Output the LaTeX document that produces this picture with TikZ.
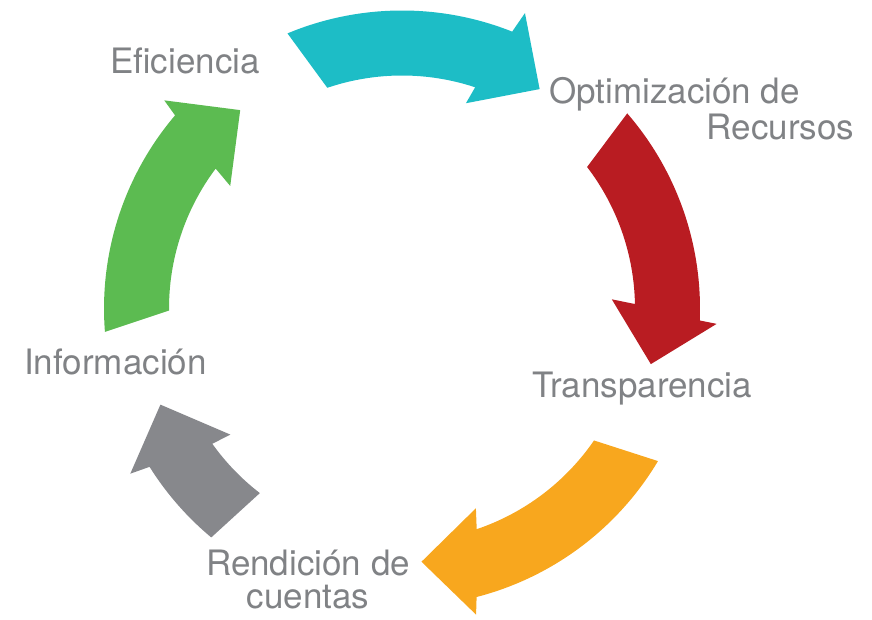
\documentclass[tikz,border=0pt]{standalone}
\usepackage{fontspec}
\setmainfont{TeX Gyre Heros}
\definecolor{cteal}{RGB}{29,189,198}
\definecolor{cred}{RGB}{185,28,34}
\definecolor{corange}{RGB}{248,167,30}
\definecolor{cgrayarrow}{RGB}{135,136,140}
\definecolor{cgreen}{RGB}{92,187,81}
\definecolor{ctext}{RGB}{128,130,133}
\begin{document}
\begin{tikzpicture}[x=1pt,y=1pt,
  lbl/.style={anchor=base, inner sep=0pt, text=ctext, font=\fontsize{35}{40}\selectfont}]
\useasboundingbox (0,0) rectangle (872,620);
\begin{scope}[shift={(402,311.5)}]
% teal
\fill[cteal] (112.6:298) arc[start angle=112.6, end angle=68.3, radius=298pt]
  -- (67.4:320) -- (57.9:259) -- (72.7:215) -- (71.7:233)
  arc[start angle=71.7, end angle=108.7, radius=233pt] -- cycle;
% red
\fill[cred] (40.9:298) arc[start angle=40.9, end angle=-2.3, radius=298pt]
  -- (-2.8:315) -- (-12.6:255) -- (2.5:210) -- (1.1:233)
  arc[start angle=1.1, end angle=37.4, radius=233pt] -- cycle;
% orange
\fill[corange] (-30.8:298) arc[start angle=-30.8, end angle=-75.5, radius=298pt]
  -- (-76.4:315) -- (-85.6:254) -- (-69.7:213) -- (-71.3:233)
  arc[start angle=-71.3, end angle=-34.5, radius=233pt] -- cycle;
% gray
\fill[cgrayarrow] (-129.8:298) arc[start angle=-129.8, end angle=-147.9, radius=298pt]
  -- (-148.7:318) -- (-158.3:260) -- (-143.7:213) -- (-144.5:233)
  arc[start angle=-144.5, end angle=-127.6, radius=233pt] -- cycle;
% green
\fill[cgreen] (184.5:298) arc[start angle=184.5, end angle=139.6, radius=298pt]
  -- (138.8:316) -- (129.2:256) -- (144.5:211) -- (143.1:233)
  arc[start angle=143.1, end angle=180.5, radius=233pt] -- cycle;
\end{scope}
\node[lbl] (efi) at (185,546) {Eficiencia};
\node[lbl] (opt1) at (674.5,516.7) {Optimización de};
\node[lbl] (opt2) at (780.5,480.7) {Recursos};
\node[lbl] (tra) at (642,222) {Transparencia};
\node[lbl, align=center, font=\fontsize{35}{33}\selectfont] (ren) at (308,11.5) {Rendición de\\cuentas};
\node[lbl] (inf) at (115.5,245) {Información};
\end{tikzpicture}
\end{document}
